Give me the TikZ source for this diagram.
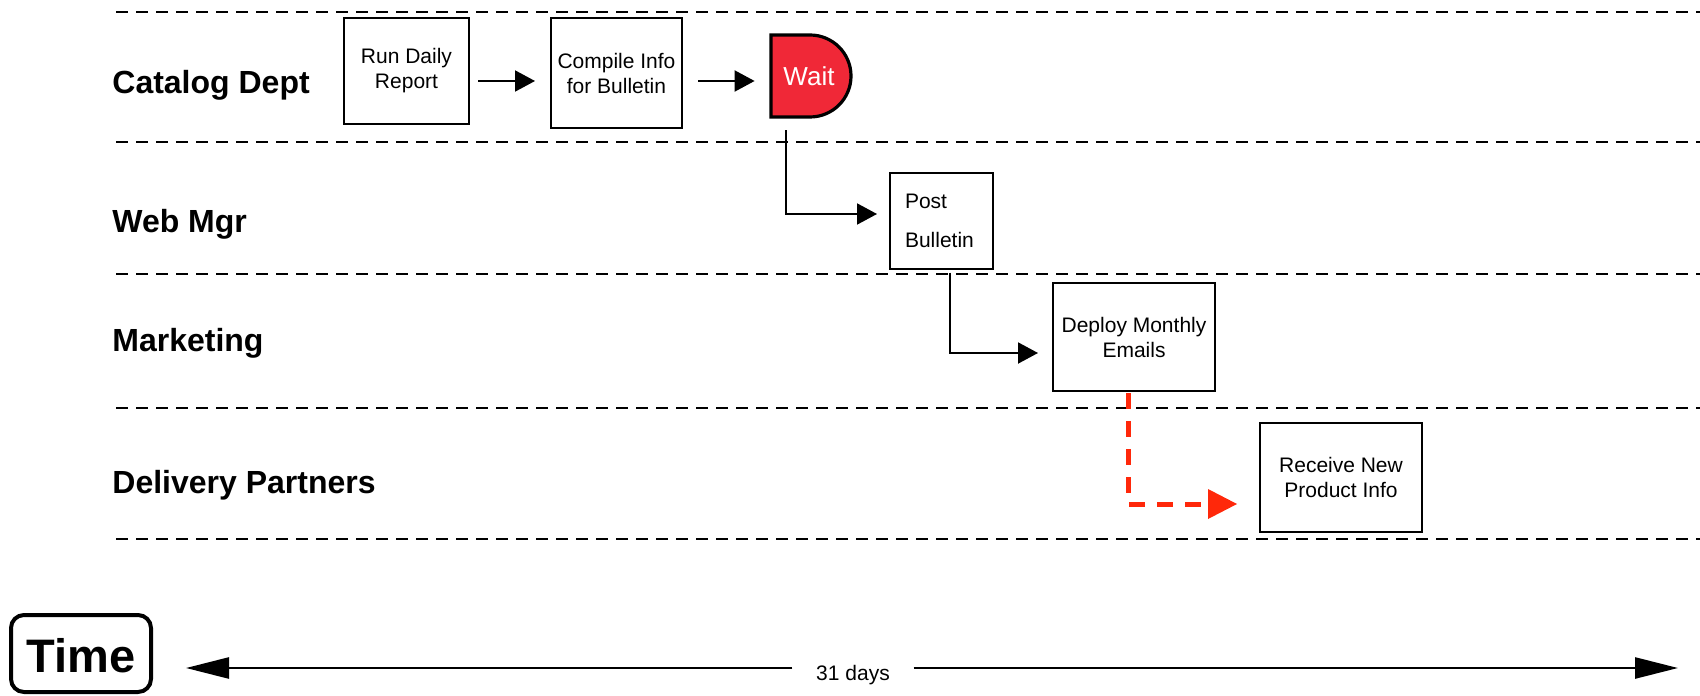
\documentclass[tikz,border=0pt]{standalone}
\usepackage{fontspec}
\setmainfont{Liberation Sans}
\usetikzlibrary{arrows.meta}
\definecolor{waitred}{RGB}{240,40,55}
\definecolor{flowred}{RGB}{255,40,10}
\begin{document}
\begin{tikzpicture}[x=0.5pt,y=-0.5pt,
  lane/.style={dash pattern=on 6pt off 4pt, line width=1pt},
  lanelabel/.style={anchor=west, inner sep=0pt, font=\fontsize{16}{19}\selectfont\bfseries},
  task/.style={draw, line width=1pt, align=center, inner sep=0pt,
    font=\fontsize{10.5}{12.5}\selectfont},
  flow/.style={line width=1pt, -{Triangle[length=10pt,width=10.5pt]}},
  redflow/.style={draw=flowred, line width=2.5pt, dash pattern=on 8pt off 6pt,
    -{Triangle[length=14.5pt,width=15pt,line width=0pt]}},
  timeline/.style={line width=1.3pt},
  timehead/.style={-{Triangle[length=21.5pt,width=10.5pt]}},
]
\useasboundingbox (0,0) rectangle (1700,695);

% lane separators
\foreach \yy in {12,142,274,408,539}
  \draw[lane] (116,\yy) -- (1700,\yy);

% lane labels
\node[lanelabel] (lcat) at (112,85) {Catalog Dept};
\node[lanelabel] (lweb) at (112,224) {Web Mgr};
\node[lanelabel] (lmkt) at (112,343) {Marketing};
\node[lanelabel] (ldel) at (112,485) {Delivery Partners};

% tasks
\node[task, minimum width=62.5pt, minimum height=53pt] (run) at (406.5,71) {Run Daily\\Report};
\node[task, minimum width=65.5pt, minimum height=55pt] (compile) at (616.5,73) {Compile Info\\for Bulletin};
\draw[line width=1.6pt, fill=waitred] (771,35) -- (810,35)
  arc[start angle=90, end angle=-90, radius=20.5pt] -- (771,117) -- cycle;
\node[minimum width=40pt, minimum height=41pt, inner sep=0pt, text=white,
  font=\fontsize{13}{15}\selectfont] (wait) at (809,76) {Wait};
\node[task, minimum width=51.5pt, minimum height=47.5pt, text width=36.5pt, align=left,
  font=\fontsize{10.5}{19.5}\selectfont] (post) at (941.5,221) {Post\\Bulletin};
\node[task, minimum width=81pt, minimum height=54pt] (deploy) at (1134,337) {Deploy Monthly\\Emails};
\node[task, minimum width=81pt, minimum height=54.5pt] (receive) at (1341,477.5) {Receive New\\Product Info};

% connectors
\coordinate (r1) at ([yshift=-5pt]run.east);
\draw[flow, shorten <=4pt, shorten >=7.5pt] (r1) -- (r1 -| compile.west);
\coordinate (c1) at ([yshift=-4pt]compile.east);
\draw[flow, shorten <=7.5pt, shorten >=7pt] (c1) -- (c1 -| wait.west);
\coordinate (w1) at ([xshift=8.5pt]wait.south west);
\coordinate (p1) at ([yshift=3.5pt]post.west);
\draw[flow, shorten <=6.5pt, shorten >=6pt] (w1) |- (p1);
\coordinate (p2) at ([xshift=4.25pt]post.south);
\coordinate (d1) at ([yshift=-8pt]deploy.west);
\draw[flow, shorten <=1.5pt, shorten >=7pt] (p2) |- (d1);
\coordinate (d2) at ([xshift=-3pt]deploy.south);
\coordinate (e1) at ([yshift=-13.25pt]receive.west);
\draw[redflow, shorten <=0.5pt, shorten >=11pt] (d2) |- (e1);

% time axis
\node[draw, line width=2pt, rounded corners=6.5pt, minimum width=70pt, minimum height=38.5pt,
  inner sep=0pt, text height=19.7pt, font=\fontsize{23.5}{27}\selectfont\bfseries] (time) at (81,653.5) {Time};
\coordinate (tl) at (186,668);
\coordinate (tr) at (1678,668);
\node[inner xsep=11.75pt, inner ysep=2pt, font=\fontsize{10.5}{12.5}\selectfont] (days) at (853,675) {31 days};
\draw[timeline, timehead] (days.west |- tl) -- (tl);
\draw[timeline, timehead] (days.east |- tr) -- (tr);
\end{tikzpicture}
\end{document}
